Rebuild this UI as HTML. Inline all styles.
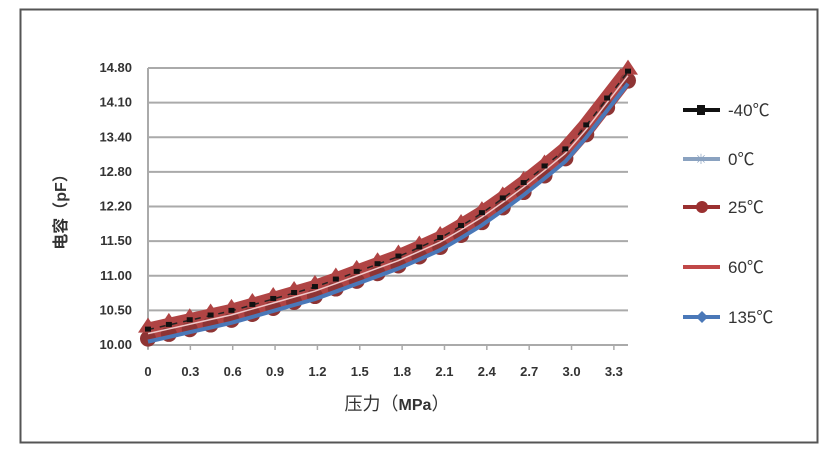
<!DOCTYPE html>
<html><head><meta charset="utf-8"><style>
body{margin:0;background:#fff;}
svg{display:block}
text{font-family:"Liberation Sans","Noto Sans CJK SC",sans-serif;}
</style></head><body>
<svg id="s" width="830" height="458" viewBox="0 0 830 458" xmlns="http://www.w3.org/2000/svg">
<rect x="0" y="0" width="830" height="458" fill="#fff"/>
<rect x="20.5" y="9.5" width="797" height="433" fill="#fff" stroke="#555" stroke-width="2"/>
<g id="grid" stroke="#aaa" stroke-width="2"></g>
<g id="labels" font-size="13" font-weight="bold" fill="#333"></g>
<g id="series"></g>
<text x="0" y="0" transform="translate(66,208) rotate(-90)" text-anchor="middle" font-size="16" font-weight="bold" fill="#333">电容（pF）</text>
<text x="397" y="410" text-anchor="middle" font-size="18" fill="#333" font-family="Liberation Serif,Noto Serif CJK SC,serif">压力（<tspan font-family="Liberation Sans" font-weight="bold" font-size="16">MPa</tspan>）</text>
<g id="legend" font-size="17" fill="#333"></g>
</svg>
<script>
const NS="http://www.w3.org/2000/svg";
function el(p,t,a,txt){const e=document.createElementNS(NS,t);for(const k in a)e.setAttribute(k,a[k]);if(txt!==undefined)e.textContent=txt;document.getElementById(p).appendChild(e);return e;}
const L=148,R=628,T=68,B=345,step=(B-T)/8;
const yl=["10.00","10.50","11.00","11.50","12.20","12.80","13.40","14.10","14.80"];
for(let i=0;i<9;i++){const y=B-i*step;el("grid","line",{x1:L,x2:R,y1:y,y2:y});el("labels","text",{x:L-16,y:y+4,"text-anchor":"end"},yl[i]);}
el("grid","line",{x1:L,x2:L,y1:T,y2:B+4});
const xs=x=>L+x/3.4*(R-L);
for(let i=0;i<=11;i++){const v=i*0.3,x=xs(v);el("grid","line",{x1:x,x2:x,y1:B,y2:B+5,"stroke-width":1.5});el("labels","text",{x:x,y:B+31,"text-anchor":"middle"},i==0?"0":v.toFixed(1));}
const P=[[0,0.3],[0.6,0.85],[1.2,1.55],[1.8,2.45],[2.1,3.0],[2.4,3.75],[2.7,4.65],[3.0,5.65],[3.2,6.7],[3.4,7.75]];
function idx(x){for(let i=0;i<P.length-1;i++){if(x<=P[i+1][0]+1e-9){const t=(x-P[i][0])/(P[i+1][0]-P[i][0]);return P[i][1]+t*(P[i+1][1]-P[i][1]);}}return P[P.length-1][1];}
const pts=[];const N=23;for(let i=0;i<=N;i++){const x=i*3.4/N;pts.push([xs(x),B-idx(x)*step]);}
const pl=o=>pts.map(p=>p[0]+","+(p[1]+o)).join(" ");
el("series","polyline",{points:pl(6),fill:"none",stroke:"#4a78b8","stroke-width":5});
el("series","polyline",{points:pl(-3),fill:"none",stroke:"#b04444","stroke-width":18});
pts.forEach((p,i)=>{el("series","circle",{cx:p[0],cy:p[1]+4,r:8,fill:"#8e3434"});el("series","polygon",{points:`${p[0]-10},${p[1]-2} ${p[0]},${p[1]-17} ${p[0]+10},${p[1]-2}`,fill:"#b04444"});});
el("series","polyline",{points:pl(-1),fill:"none",stroke:"#f0c8c8","stroke-width":1.5});
el("series","polyline",{points:pl(-5),fill:"none",stroke:"#222","stroke-width":1.5,"stroke-dasharray":"6,6"});
pts.forEach((p,i)=>{el("series","rect",{x:p[0]-3,y:p[1]-8,width:6,height:5,fill:"#111"});});
el("series","polyline",{points:pl(7),fill:"none",stroke:"#4a78b8","stroke-width":4});
const lg=[["-40℃",110,"#111"],["0℃",159,"#8aa2c0"],["25℃",207,"#9a3030"],["60℃",267,"#c04848"],["135℃",317,"#4a78b8"]];
lg.forEach((g,i)=>{const y=g[1];el("legend","line",{x1:683,x2:720,y1:y,y2:y,stroke:g[2],"stroke-width":4});
 if(i==0)el("legend","rect",{x:697,y:y-5,width:8,height:10,fill:"#111"});
 if(i==1)el("legend","text",{x:701,y:y+5,"text-anchor":"middle","font-size":14,fill:"#8aa2c0"},"✳");
 if(i==2)el("legend","circle",{cx:702,cy:y,r:6,fill:"#9a3030"});
 if(i==4)el("legend","polygon",{points:`${702},${y-6} ${708},${y} ${702},${y+6} ${696},${y}`,fill:"#4a78b8"});
 el("legend","text",{x:728,y:y+6},g[0]);});
</script>
</body></html>
